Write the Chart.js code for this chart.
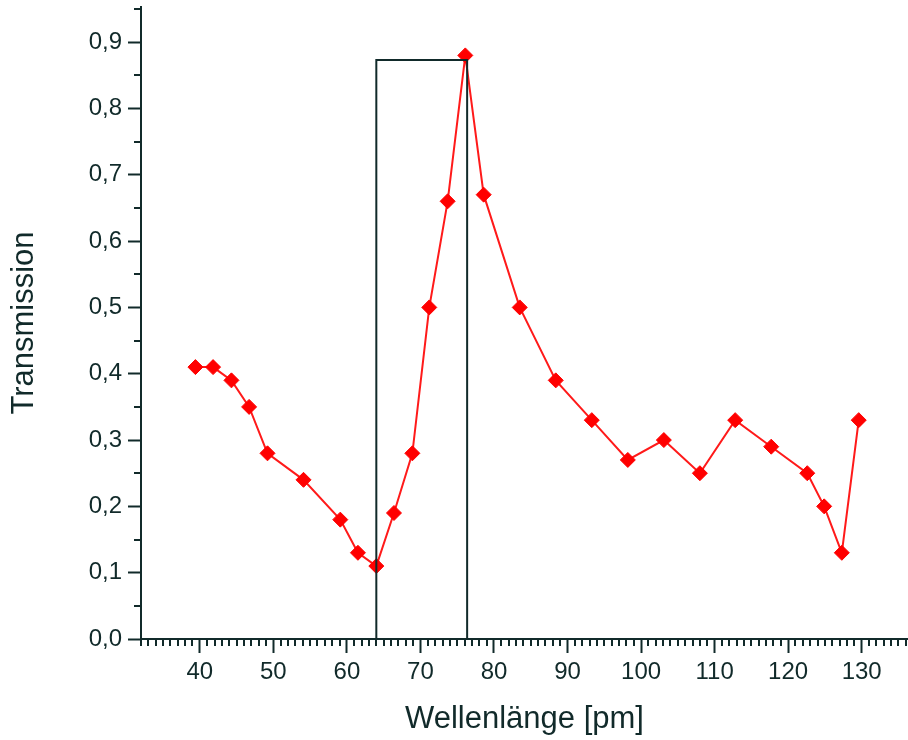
<!DOCTYPE html>
<html>
<head>
<meta charset="utf-8">
<script src="https://cdn.jsdelivr.net/npm/chart.js@4/dist/chart.umd.min.js"></script>
<style>
  body { margin: 0; background: #fff; }
  #wrap { width: 908px; height: 740px; }
</style>
</head>
<body>
<div id="wrap"><canvas id="chart" width="908" height="740"></canvas></div>
<script>
const wavelength = [39.4, 41.8, 44.3, 46.7, 49.2, 54.1, 59.1, 61.5, 64.0, 66.4, 68.9, 71.2, 73.7, 76.1,
                    78.6, 83.5, 88.4, 93.3, 98.2, 103.1, 108.0, 112.8, 117.7, 122.6, 124.9, 127.3, 129.6];
const transmission = [0.41, 0.41, 0.39, 0.35, 0.28, 0.24, 0.18, 0.13, 0.11, 0.19, 0.28, 0.50, 0.66, 0.88,
                      0.67, 0.50, 0.39, 0.33, 0.27, 0.30, 0.25, 0.33, 0.29, 0.25, 0.20, 0.13, 0.33];

// markierter Bereich (Rechteck)
const boxX = [64.0, 64.0, 76.35, 76.35];
const boxY = [0, 0.873, 0.873, 0];

const xMin = 32, xMax = 136.3;
const yMin = 0, yMax = 0.953;

const ink = '#112a2a';
const fontFamily = 'Liberation Sans, Arial, sans-serif';

// Punkte zusammenbauen
function toPoints(xs, ys) {
    let arr = [];
    for (let i = 0; i < xs.length; i++) {
        arr[i] = { x: xs[i], y: ys[i] };
    }
    return arr;
}

// kleine Zwischenstriche an den Achsen
const minorTicks = {
    id: 'minorTicks',
    afterDraw(chart) {
        const ctx = chart.ctx;
        const xs = chart.scales.x;
        const ys = chart.scales.y;
        ctx.save();
        ctx.strokeStyle = ink;
        ctx.lineWidth = 2;
        ctx.beginPath();
        for (let v = Math.ceil(xs.min); v <= xs.max; v++) {
            if (v % 10 === 0) continue;
            const px = Math.round(xs.getPixelForValue(v));
            ctx.moveTo(px, ys.bottom);
            ctx.lineTo(px, ys.bottom + 7);
        }
        for (let v = 0.05; v <= ys.max; v += 0.1) {
            const py = Math.round(ys.getPixelForValue(v));
            ctx.moveTo(xs.left - 7, py);
            ctx.lineTo(xs.left, py);
        }
        ctx.stroke();
        ctx.restore();
    }
};

new Chart(document.getElementById('chart'), {
    type: 'line',
    data: {
        datasets: [
            {
                data: toPoints(boxX, boxY),
                borderColor: ink,
                borderWidth: 2,
                pointRadius: 0,
                fill: false,
                order: 0
            },
            {
                data: toPoints(wavelength, transmission),
                borderColor: '#ff1a1a',
                backgroundColor: '#ff0000',
                borderWidth: 2,
                pointStyle: 'rectRot',
                pointRadius: 7.5,
                pointBorderWidth: 1,
                pointBorderColor: '#ff0000',
                pointBackgroundColor: '#ff0000',
                fill: false,
                clip: false,
                order: 1
            }
        ]
    },
    options: {
        responsive: false,
        animation: false,
        layout: { autoPadding: false, padding: { top: 7, right: 0, left: 0, bottom: 0 } },
        plugins: {
            legend: { display: false },
            tooltip: { enabled: false }
        },
        scales: {
            x: {
                type: 'linear',
                min: xMin,
                max: xMax,
                afterFit: (scale) => {
                    scale.height = 101;
                    scale.paddingLeft = 0;
                    scale.paddingRight = 0;
                },
                border: { color: ink, width: 2 },
                grid: { drawOnChartArea: false, drawTicks: true, tickLength: 14, tickColor: ink, tickWidth: 2 },
                ticks: {
                    stepSize: 10,
                    includeBounds: false,
                    maxRotation: 0,
                    padding: 5,
                    color: ink,
                    font: { family: fontFamily, size: 24 }
                },
                title: {
                    display: true,
                    text: 'Wellenlänge [pm]',
                    color: ink,
                    padding: { top: 0, bottom: 2 },
                    font: { family: fontFamily, size: 31 }
                }
            },
            y: {
                min: yMin,
                max: yMax,
                afterFit: (scale) => {
                    scale.width = 141;
                    scale.paddingTop = 0;
                    scale.paddingBottom = 0;
                },
                border: { color: ink, width: 2 },
                grid: { drawOnChartArea: false, drawTicks: true, tickLength: 13, tickColor: ink, tickWidth: 2 },
                ticks: {
                    stepSize: 0.1,
                    includeBounds: false,
                    padding: 6,
                    color: ink,
                    font: { family: fontFamily, size: 24 },
                    callback: function(value) {
                        return value.toFixed(1).replace('.', ',');
                    }
                },
                title: {
                    display: true,
                    text: 'Transmission',
                    color: ink,
                    padding: { top: 6, bottom: 0 },
                    font: { family: fontFamily, size: 31 }
                }
            }
        }
    },
    plugins: [minorTicks]
});
</script>
</body>
</html>
